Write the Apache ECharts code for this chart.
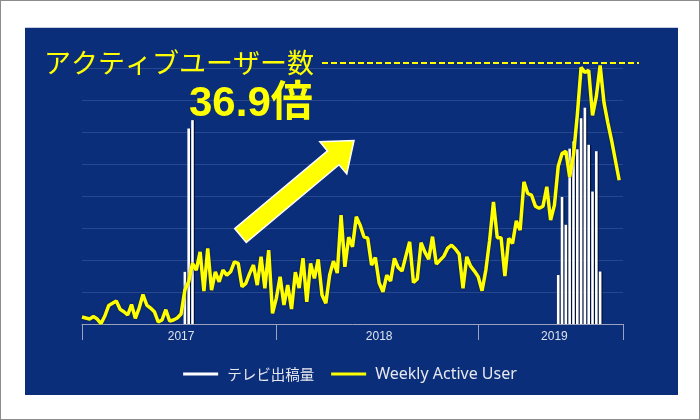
<!DOCTYPE html>
<html><head><meta charset="utf-8">
<script src="https://cdn.jsdelivr.net/npm/echarts@6/dist/echarts.min.js"></script>
<style>
html,body{margin:0;padding:0;background:#fff;}
#frame{position:absolute;left:0;top:0;width:700px;height:420px;box-sizing:border-box;border:1px solid #8c8c8c;background:#fff;}
#panel{position:absolute;left:25px;top:27px;width:653px;height:368px;background:#0a2e7a;border-top:1px solid #c5cde0;box-sizing:border-box;}
#chart{position:absolute;left:0;top:0;width:700px;height:420px;}
</style></head><body>
<div id="frame"></div><div id="panel"></div><div id="chart"></div>
<script>
// ---- data ----
const yearNames = ['2017', '2018', '2019'];
const yearStartWeek = [0, 51, 104];          // year boundary ticks (week index)
const weekCount = 143;
const yearLabelWeek = [26, 78, 124];          // where the year label sits
const tickWeeks = [0, 51, 104, 142];

const wau = [
  218,187,156,234,156,15,250,577,646,718,
  459,384,281,608,178,499,920,593,499,384,
  62,125,446,94,125,187,312,1061,1320,1894,
  1685,2256,1030,2362,1061,1632,1320,1685,1529,1632,
  1944,1894,1164,1270,1582,1841,1217,2100,1114,2309,
  334,802,1476,593,1217,468,1622,1123,2059,696,
  1894,1426,2019,905,646,1529,1966,1591,3401,1788,
  2714,2412,3354,3089,2724,2683,1841,2075,1279,1008,
  1529,1342,2050,1763,1654,2122,2568,1295,1404,2543,
  2246,2028,2730,1872,1997,2122,2371,2465,2346,2184,
  1114,2100,1810,1654,1476,1039,1685,2621,3816,2699,
  2699,1498,2674,2518,3223,2933,4440,4078,4025,3682,
  3619,3682,4290,3245,3713,4930,5326,5398,4596,5273,
  6521,8018,7862,7925,6521,7114,8081,6926,6302,5741,
  5117,4493
];
const tvWeek  = [27,28,29,125,126,127,128,129,130,131,132,133,134,135,136];
const tvValue = [163,611,637,153,397,310,548,571,546,643,676,560,414,540,164];

const titleText = 'アクティブユーザー数';
const ratioText = '36.9倍';
const seriesNames = ['テレビ出稿量', 'Weekly Active User'];

// ---- build ----
const weeks = [];
for (let i = 0; i < weekCount; i++) {
  let y = 0;
  for (let k = 0; k < yearStartWeek.length; k++) if (i >= yearStartWeek[k]) y = k;
  weeks.push(yearNames[y] + '-W' + (i - yearStartWeek[y] + 1));
}
const barData = new Array(weekCount).fill(null);
tvWeek.forEach((w, k) => { barData[w] = tvValue[k]; });
const tickSet = new Set(tickWeeks);
const labelSet = new Set(yearLabelWeek);

const chart = echarts.init(document.getElementById('chart'), null, {renderer: 'canvas'});
const option = {
  backgroundColor: 'transparent',
  animation: false,
  title: [
    {text: titleText, left: 44, top: 49, padding: 0,
     textStyle: {color: '#ffff00', fontSize: 27, fontWeight: 'normal', fontFamily: "'Noto Sans CJK JP'"}},
    {text: ratioText, left: 189, top: 83, padding: 0,
     textStyle: {color: '#ffff00', fontSize: 42, fontWeight: 'bold', fontFamily: "'Liberation Sans','Noto Sans CJK JP'"}}
  ],
  grid: {left: 82, right: 77, top: 68, bottom: 96, containLabel: false},
  legend: {
    data: seriesNames, left: 'center', top: 361, icon: 'rect',
    itemWidth: 35, itemHeight: 3, itemGap: 17, selectedMode: false,
    itemStyle: {shadowBlur: 0, shadowOffsetX: 0, shadowColor: 'transparent'},
    formatter: (name) => (/^[\x00-\x7f]+$/.test(name) ? '{en|' + name + '}' : '{ja|' + name + '}'),
    textStyle: {
      color: '#e6e8ee', padding: [0, 0, 0, 4],
      rich: {
        en: {color: '#e6e8ee', fontSize: 16, fontFamily: "'Noto Sans'"},
        ja: {color: '#e6e8ee', fontSize: 14.5, fontFamily: "'Noto Sans CJK JP'"}
      }
    }
  },
  xAxis: {
    type: 'category', data: weeks, boundaryGap: false,
    axisLine: {lineStyle: {color: '#9aa3bd', width: 1}},
    axisTick: {show: true, length: 16, interval: (i) => tickSet.has(i), lineStyle: {color: '#9aa3bd'}},
    axisLabel: {interval: (i) => labelSet.has(i), formatter: (v) => v.slice(0, 4),
      color: '#dde2ee', fontSize: 12, margin: 7, fontFamily: "'Liberation Sans'"},
    splitLine: {show: false}
  },
  yAxis: [
    {type: 'value', min: 0, max: 8000, interval: 1000,
     axisLine: {show: false}, axisTick: {show: false}, axisLabel: {show: false},
     splitLine: {lineStyle: {color: '#27488f', width: 1}}},
    {type: 'value', min: 0, max: 800, interval: 100, show: false, splitLine: {show: false}}
  ],
  series: [
    {name: seriesNames[0], type: 'bar', yAxisIndex: 1, data: barData, barWidth: 2.6, z: 2,
     itemStyle: {color: '#ffffff', shadowColor: 'rgba(0,0,0,0.55)', shadowOffsetX: 1.2, shadowBlur: 0}},
    {name: seriesNames[1], type: 'line', yAxisIndex: 0, data: wau, symbol: 'none', clip: false, z: 3,
     itemStyle: {color: '#ffff00'},
     lineStyle: {color: '#ffff00', width: 3.5, shadowColor: 'rgba(0,0,0,0.55)', shadowBlur: 2}}
  ]
};
chart.setOption(option);

// annotations: dashed peak reference line and arrow
const peakY = chart.convertToPixel({yAxisIndex: 0}, Math.max.apply(null, wau)) - 2.5;
const tail = [240.5, 235.5], tip = [354, 140.5];
const dx = tip[0] - tail[0], dy = tip[1] - tail[1], len = Math.hypot(dx, dy);
const ux = dx / len, uy = dy / len, nx = -uy, ny = ux;
const hw = 9, headW = 21, headL = 27;
const bx = tip[0] - ux * headL, by = tip[1] - uy * headL;
const arrowPts = [
  [tail[0] + nx * hw, tail[1] + ny * hw],
  [bx + nx * hw, by + ny * hw],
  [bx + nx * headW, by + ny * headW],
  tip,
  [bx - nx * headW, by - ny * headW],
  [bx - nx * hw, by - ny * hw],
  [tail[0] - nx * hw, tail[1] - ny * hw]
];
chart.setOption({
  graphic: [
    {type: 'line', shape: {x1: 322, y1: peakY, x2: 639, y2: peakY}, z: 10,
     style: {stroke: '#ffff00', lineWidth: 2, lineDash: [6, 3]}},
    {type: 'polygon', shape: {points: arrowPts}, z: 10,
     style: {fill: '#ffff00', stroke: '#ffffff', lineWidth: 1.5}}
  ]
});
</script></body></html>
